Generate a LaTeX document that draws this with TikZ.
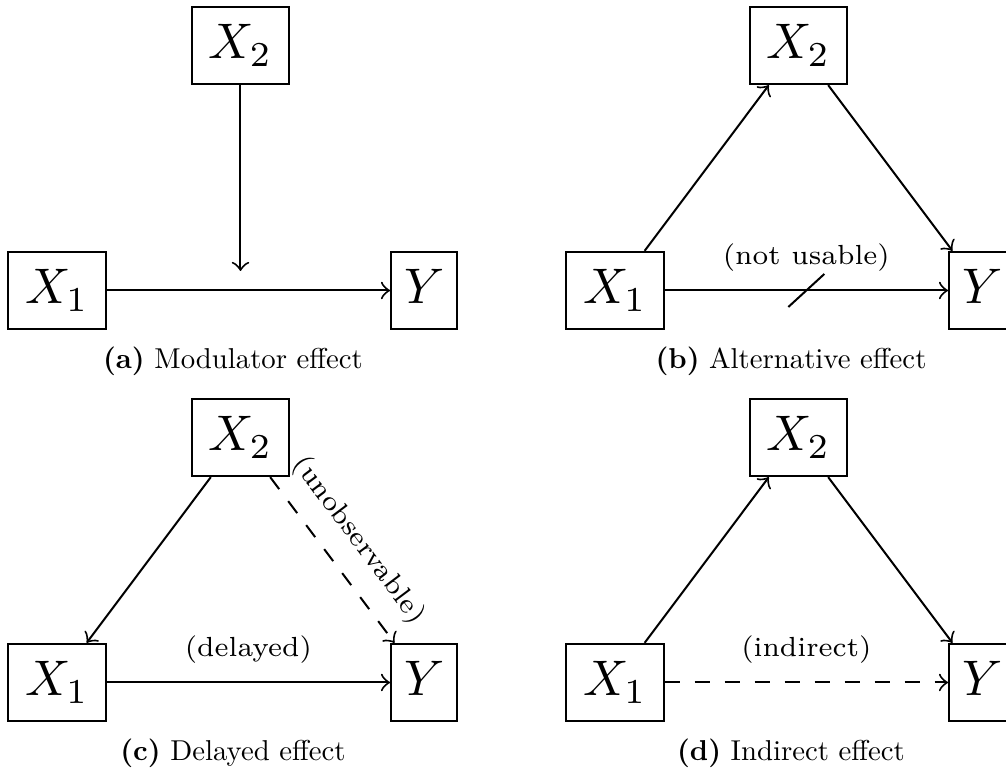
\documentclass[tikz,border=0pt]{standalone}
\usetikzlibrary{calc}
\begin{document}
\begin{tikzpicture}[x=0.2pt,y=-0.2pt,
  box/.style={draw, line width=0.4pt, inner sep=0pt, minimum height=15.46pt, text height=6.83pt, text depth=1.5pt},
  xbox/.style={box, minimum width=19.46pt},
  ybox/.style={box, minimum width=13.26pt},
  arr/.style={->, line width=0.4pt},
  lbl/.style={font=\scriptsize, scale=0.79, inner sep=4.55pt},
  captext/.style={scale=0.575, anchor=base}]
\useasboundingbox (0,0) rectangle (1006,771);
% (a)
\node[xbox] (x1a) at (57,290.5) {$X_1$};
\node[xbox] (x2a) at (240.5,45.5) {$X_2$};
\node[ybox] (ya) at (424.2,290.5) {$Y$};
\coordinate (ma) at (240.5,271);
\draw[arr] (x1a) -- (ya);
\draw[arr] (x2a) -- (ma);
\node[captext] (capa) at (233,368.3) {\textbf{(a)} Modulator effect};
% (b)
\node[xbox] (x1b) at (615,290.5) {$X_1$};
\node[xbox] (x2b) at (798.5,45.5) {$X_2$};
\node[ybox] (yb) at (982.2,290.5) {$Y$};
\draw[arr] (x1b) -- (x2b);
\draw[arr] (x2b) -- (yb);
\draw[arr] (x1b) -- node[lbl, above] {(not usable)} coordinate[midway] (sb) (yb);
\draw[line width=0.4pt] ([xshift=-3.6pt,yshift=-3.3pt]sb) -- ([xshift=3.6pt,yshift=3.3pt]sb);
\node[captext] (capb) at (791,368.3) {\textbf{(b)} Alternative effect};
% (c)
\node[xbox] (x1c) at (57,682.5) {$X_1$};
\node[xbox] (x2c) at (240.5,437.5) {$X_2$};
\node[ybox] (yc) at (424.2,682.5) {$Y$};
\draw[arr] (x2c) -- (x1c);
\draw[arr, dashed] (x2c) -- node[lbl, above, sloped] {(unobservable)} (yc);
\draw[arr] (x1c) -- node[lbl, above] {(delayed)} (yc);
\node[captext] (capc) at (233,760.3) {\textbf{(c)} Delayed effect};
% (d)
\node[xbox] (x1d) at (615,682.5) {$X_1$};
\node[xbox] (x2d) at (798.5,437.5) {$X_2$};
\node[ybox] (yd) at (982.2,682.5) {$Y$};
\draw[arr] (x1d) -- (x2d);
\draw[arr] (x2d) -- (yd);
\draw[arr, dashed] (x1d) -- node[lbl, above] {(indirect)} (yd);
\node[captext] (capd) at (791,760.3) {\textbf{(d)} Indirect effect};
\end{tikzpicture}
\end{document}
